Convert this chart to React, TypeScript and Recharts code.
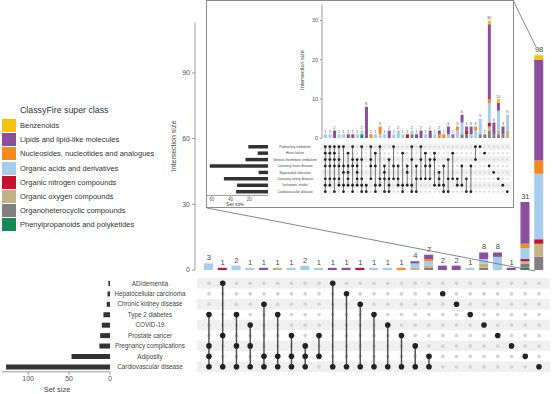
import React from 'react';
import { ComposedChart, BarChart, ScatterChart, Bar, Line, Scatter, XAxis, YAxis, ReferenceArea } from 'recharts';

const FONT = '"Liberation Sans", Arial, Helvetica, sans-serif';

// ClassyFire super classes (legend order = top of stack first)
const classNames = [
  'Benzenoids',
  'Lipids and lipid-like molecules',
  'Nucleosides, nucleotides and analogues',
  'Organic acids and derivatives',
  'Organic nitrogen compounds',
  'Organic oxygen compounds',
  'Organoheterocyclic compounds',
  'Phenylpropanoids and polyketides',
];
const classKeys = ['benz', 'lipid', 'nuc', 'acid', 'nitro', 'oxy', 'hetero', 'phenyl'];
const classColors = ['#F2C40F', '#8C4F9C', '#F58A1F', '#A7CDEE', '#C4122F', '#C3B283', '#808080', '#168A55'];

// ---------- main UpSet ----------
const mainSetNames = [
  'AD/dementia', 'Hepatocellular carcinoma', 'Chronic kidney disease', 'Type 2 diabetes', 'COVID-19',
  'Prostate cancer', 'Pregnancy complications', 'Adiposity', 'Cardiovascular disease',
];
const mainSetSizes = [2, 3, 4, 8, 10, 12, 13, 47, 127];
const mainTotals = [3, 1, 2, 1, 1, 1, 1, 2, 1, 1, 1, 1, 1, 1, 1, 4, 7, 2, 2, 1, 8, 8, 1, 31, 98];
const mainMembers = [
  '000100111', '100001001', '000100101', '000010101', '001000011', '000100011', '000001011', '000000111',
  '000001010', '100000001', '010000001', '001000001', '000100001', '000010001', '000001001', '000000101',
  '000000011', '010000000', '001000000', '000100000', '000010000', '000001000', '000000100', '000000010',
  '000000001',
];
const mainBenz =   [0,0,0,0,0,0,0,0,0,0,0,0,0,0,0,0,0,0,0,0,0,0,0,0,2];
const mainLipid =  [0,0,0,0,1,0,0,0,0,1,1,0,0,0,0,1,2,2,2,0,3,2,1,19,46];
const mainNuc =    [0,0,0,0,0,0,0,0,0,0,0,0,0,0,1,0,1,0,0,0,0,0,0,2,6];
const mainAcid =   [3,0,2,1,0,0,1,2,1,0,0,0,1,1,0,2,2,0,0,1,2,6,0,5,30];
const mainNitro =  [0,1,0,0,0,0,0,0,0,0,0,1,0,0,0,0,0,0,0,0,0,0,0,1,2];
const mainOxy =    [0,0,0,0,0,1,0,0,0,0,0,0,0,0,0,1,1,0,0,0,2,0,0,1,6];
const mainHetero = [0,0,0,0,0,0,0,0,0,0,0,0,0,0,0,0,1,0,0,0,1,0,0,2,6];
const mainPhenyl = [0,0,0,0,0,0,0,0,0,0,0,0,0,0,0,0,0,0,0,0,0,0,0,1,0];

// ---------- inset UpSet (cardiovascular subtypes) ----------
const insetSetNames = [
  'Pulmonary embolism', 'Heart failure', 'Venous thrombotic embolism', 'Coronary heart disease',
  'Myocardial infarction', 'Coronary artery disease', 'Ischaemic stroke', 'Cardiovascular disease',
];
const insetSetSizes = [21, 11, 24, 62, 10, 47, 33, 34];
const insetTotals = [1,1,2,1,1,1,1,1,2,8,1,1,3,1,2,1,2,1,1,2,1,2,1,2,1,2,1,3,1,3,6,3,3,3,5,1,30,4,10,3,6];
const insetMembers = [
  '11110111', '11110110', '11110101', '10110110', '10011011', '01011110', '10110011', '00111110',
  '10100111', '00000011', '10110100', '01010011', '10000110', '00011101', '00100111', '10010100',
  '00010110', '01000011', '00011010', '10100011', '00010101', '10100100', '01010100', '00110100',
  '01100010', '00001110', '00010011', '00100101', '01000100', '00000110', '00010010', '00000101',
  '00010001', '10100000', '10000000', '01000000', '00010000', '00001000', '00000100', '00000010',
  '00000001',
];
const insetBenz =   [0,0,0,0,0,0,0,0,0,0, 0,0,0,0,0,0,0,0,0,0, 0,0,0,0,0,0,0,0,0,0, 0,0,0,0,0,0,1,0,1,0, 0];
const insetLipid =  [0,0,2,0,0,1,1,0,0,8, 0,0,0,0,2,0,0,0,0,0, 1,2,0,2,0,1,0,2,0,0, 2,1,2,0,0,0,19,3,2,2, 0];
const insetNuc =    [0,0,0,0,0,0,0,0,0,0, 1,0,2,0,0,0,0,0,0,0, 0,0,0,0,0,1,1,0,0,1, 0,0,0,1,0,0,1,0,0,0, 0];
const insetAcid =   [1,1,0,1,1,0,0,1,1,0, 0,1,1,1,0,1,2,1,0,1, 0,0,1,0,1,0,0,1,0,2, 3,0,1,2,4,0,5,0,5,0, 4];
const insetNitro =  [0,0,0,0,0,0,0,0,0,0, 0,0,0,0,0,0,0,0,1,0, 0,0,0,0,0,0,0,0,0,0, 0,1,0,0,0,0,1,0,0,0, 0];
const insetOxy =    [0,0,0,0,0,0,0,0,0,0, 0,0,0,0,0,0,0,0,0,0, 0,0,0,0,0,0,0,0,0,0, 0,0,0,0,0,0,1,0,1,0, 2];
const insetHetero = [0,0,0,0,0,0,0,0,0,0, 0,0,0,0,0,0,0,0,0,1, 0,0,0,0,0,0,0,0,1,0, 1,1,0,0,1,1,2,1,1,1, 0];
const insetPhenyl = [0,0,0,0,0,0,0,0,1,0, 0,0,0,0,0,0,0,0,0,0, 0,0,0,0,0,0,0,0,0,0, 0,0,0,0,0,0,0,0,0,0, 0];

const mainSeries = [mainBenz, mainLipid, mainNuc, mainAcid, mainNitro, mainOxy, mainHetero, mainPhenyl];
const insetSeries = [insetBenz, insetLipid, insetNuc, insetAcid, insetNitro, insetOxy, insetHetero, insetPhenyl];
const stackOrder = [7, 6, 5, 4, 3, 2, 1, 0]; // bottom -> top

function buildBars(totals: number[], series: number[][]) {
  return totals.map((t, i) => {
    const row: any = { col: String(i + 1), total: t };
    classKeys.forEach((k, j) => { row[k] = series[j][i]; });
    return row;
  });
}

function buildMatrix(members: string[]) {
  const bg: any[] = [];
  const cols: any[][] = [];
  members.forEach((m, c) => {
    const pts: any[] = [];
    for (let r = 0; r < m.length; r++) {
      if (m[r] === '1') pts.push({ x: c, y: r });
      else bg.push({ x: c, y: r });
    }
    cols.push(pts);
  });
  return { bg, cols };
}

const dotShape = (r: number, fill: string) => (p: any) => <circle cx={p.cx} cy={p.cy} r={r} fill={fill} />;

export default function App() {
  const mainData = buildBars(mainTotals, mainSeries);
  const insetData = buildBars(insetTotals, insetSeries);
  const mainM = buildMatrix(mainMembers);
  const insetM = buildMatrix(insetMembers);
  const mainSetData = mainSetNames.map((n, i) => ({ name: n, size: mainSetSizes[i] }));
  const insetSetData = insetSetNames.map((n, i) => ({ name: n, size: insetSetSizes[i] }));
  const mainRows = mainSetNames.map((_, i) => i);
  const insetRows = insetSetNames.map((_, i) => i);

  return (
    <div style={{ position: 'absolute', left: 0, top: 0, width: 553, height: 394, background: '#fff', overflow: 'hidden', fontFamily: FONT }}>
      {/* main intersection bars */}
      <div style={{ position: 'absolute', left: 160, top: 0 }}>
        <ComposedChart width={393} height={280} data={mainData} margin={{ top: 22.5, right: 7, bottom: 10, left: 0 }}>
          <XAxis dataKey="col" hide padding={{ left: 7, right: 0 }} />
          <YAxis width={35} domain={[0, 113]} ticks={[0, 30, 60, 90]} allowDataOverflow tickSize={3} tickMargin={2}
            stroke="#9a9a9a" tick={{ fontSize: 7, fill: '#555', fontFamily: FONT }} />
          {stackOrder.map((j) => (
            <Bar key={classKeys[j]} dataKey={classKeys[j]} stackId="s" fill={classColors[j]} barSize={9} isAnimationActive={false} />
          ))}
          <Line dataKey="total" stroke="none" dot={false} activeDot={false} isAnimationActive={false}
            label={{ position: 'top', offset: 3, fontSize: 7.5, fill: '#444', fontFamily: FONT }} />
        </ComposedChart>
      </div>

      {/* main matrix stripes */}
      <div style={{ position: 'absolute', left: 0, top: 270 }}>
        <ScatterChart width={553} height={110} margin={{ top: 8.1, right: 3, bottom: 8, left: 197 }}>
          <XAxis type="number" dataKey="x" domain={[-0.87, 24.8]} hide allowDataOverflow />
          <YAxis type="number" dataKey="y" domain={[-0.5, 8.5]} reversed hide allowDataOverflow />
          {mainRows.filter((r) => r % 2 === 0).map((r) => (
            <ReferenceArea key={r} y1={r - 0.5} y2={r + 0.5} fill="#f0f0f0" fillOpacity={1} stroke="none" />
          ))}
        </ScatterChart>
      </div>

      {/* main matrix dots */}
      <div style={{ position: 'absolute', left: 0, top: 270 }}>
        <ScatterChart width={553} height={110} margin={{ top: 8.1, right: 3, bottom: 8, left: 0 }}>
          <XAxis type="number" dataKey="x" domain={[-0.87, 24.8]} hide allowDataOverflow />
          <YAxis type="number" dataKey="y" domain={[-0.5, 8.5]} reversed width={197} ticks={mainRows} interval={0}
            axisLine={false} tickLine={false} allowDataOverflow
            tick={(p: any) => (
              <text x={150} y={p.y} dy={2.3} textAnchor="middle" fontSize={6.3} fill="#444" fontFamily={FONT}>
                {mainSetNames[p.payload.value]}
              </text>
            )} />
          <Scatter data={mainM.bg} shape={dotShape(1.9, '#d4d4d4')} isAnimationActive={false} />
          {mainM.cols.map((pts, c) => (
            <Scatter key={c} data={pts} line={pts.length > 1 ? { stroke: '#4a4a4a', strokeWidth: 1.4 } : false}
              shape={dotShape(2.8, '#222')} isAnimationActive={false} />
          ))}
        </ScatterChart>
      </div>

      {/* main set sizes */}
      <div style={{ position: 'absolute', left: 0, top: 278.1 }}>
        <BarChart layout="vertical" width={112} height={113.8} data={mainSetData} margin={{ top: 0, right: 2, bottom: 0, left: 2 }}>
          <YAxis type="category" dataKey="name" hide />
          <XAxis type="number" dataKey="size" reversed domain={[0, 132]} ticks={[0, 50, 100]} height={20} tickSize={3} tickMargin={1}
            stroke="#9a9a9a" tick={{ fontSize: 7, fill: '#555', fontFamily: FONT }} />
          <Bar dataKey="size" fill="#333" barSize={5} isAnimationActive={false} />
        </BarChart>
      </div>

      {/* legend */}
      <div style={{ position: 'absolute', left: 20, top: 105, fontSize: 8.8, color: '#333', whiteSpace: 'nowrap' }}>ClassyFire super class</div>
      {classNames.map((n, i) => (
        <div key={n} style={{ position: 'absolute', left: 2, top: 119 + i * 14.2, height: 13, display: 'flex', alignItems: 'center' }}>
          <div style={{ width: 14, height: 13, background: classColors[i] }} />
          <div style={{ marginLeft: 4, fontSize: 7.5, color: '#333', whiteSpace: 'nowrap' }}>{n}</div>
        </div>
      ))}

      {/* inset box */}
      <div style={{ position: 'absolute', left: 206, top: 0, width: 308, height: 208, boxSizing: 'border-box', border: '1px solid #8c8c8c', background: '#fff' }} />

      {/* inset bars */}
      <div style={{ position: 'absolute', left: 290, top: 0 }}>
        <ComposedChart width={263} height={145} data={insetData} margin={{ top: 4.7, right: 43.4, bottom: 6.7, left: 0 }}>
          <XAxis dataKey="col" hide padding={{ left: 1, right: 0 }} />
          <YAxis width={32} domain={[0, 34]} ticks={[0, 10, 20, 30]} allowDataOverflow tickSize={2} tickMargin={2}
            stroke="#9a9a9a" tick={{ fontSize: 5.5, fill: '#555', fontFamily: FONT }} />
          {stackOrder.map((j) => (
            <Bar key={classKeys[j]} dataKey={classKeys[j]} stackId="s" fill={classColors[j]} barSize={3} isAnimationActive={false} />
          ))}
          <Line dataKey="total" stroke="none" dot={false} activeDot={false} isAnimationActive={false}
            label={{ position: 'top', offset: 1.5, fontSize: 4, fill: '#555', fontFamily: FONT }} />
        </ComposedChart>
      </div>

      {/* inset matrix stripes */}
      <div style={{ position: 'absolute', left: 0, top: 140 }}>
        <ScatterChart width={553} height={58} margin={{ top: 3.5, right: 42, bottom: 3.1, left: 321 }}>
          <XAxis type="number" dataKey="x" domain={[-0.945, 40.81]} hide allowDataOverflow />
          <YAxis type="number" dataKey="y" domain={[-0.5, 7.5]} reversed hide allowDataOverflow />
          {insetRows.filter((r) => r % 2 === 0).map((r) => (
            <ReferenceArea key={r} y1={r - 0.5} y2={r + 0.5} fill="#f0f0f0" fillOpacity={1} stroke="none" />
          ))}
        </ScatterChart>
      </div>

      {/* inset matrix dots */}
      <div style={{ position: 'absolute', left: 0, top: 140 }}>
        <ScatterChart width={553} height={58} margin={{ top: 3.5, right: 42, bottom: 3.1, left: 0 }}>
          <XAxis type="number" dataKey="x" domain={[-0.945, 40.81]} hide allowDataOverflow />
          <YAxis type="number" dataKey="y" domain={[-0.5, 7.5]} reversed width={321} ticks={insetRows} interval={0}
            axisLine={false} tickLine={false} allowDataOverflow
            tick={(p: any) => (
              <text x={295} y={p.y} dy={1.2} textAnchor="middle" fontSize={3.4} fill="#444" fontFamily={FONT}>
                {insetSetNames[p.payload.value]}
              </text>
            )} />
          <Scatter data={insetM.bg} shape={dotShape(1.0, '#d4d4d4')} isAnimationActive={false} />
          {insetM.cols.map((pts, c) => (
            <Scatter key={c} data={pts} line={pts.length > 1 ? { stroke: '#555', strokeWidth: 0.8 } : false}
              shape={dotShape(1.4, '#222')} isAnimationActive={false} />
          ))}
        </ScatterChart>
      </div>

      {/* inset set sizes */}
      <div style={{ position: 'absolute', left: 205, top: 143.5 }}>
        <BarChart layout="vertical" width={63} height={61.4} data={insetSetData} margin={{ top: 0, right: 0, bottom: 0, left: 2 }}>
          <YAxis type="category" dataKey="name" hide />
          <XAxis type="number" dataKey="size" reversed domain={[0, 65]} ticks={[0, 20, 40, 60]} height={10} tickSize={1.5} tickMargin={0.5}
            stroke="#9a9a9a" tick={{ fontSize: 4.5, fill: '#555', fontFamily: FONT }} />
          <Bar dataKey="size" fill="#333" barSize={3.5} isAnimationActive={false} />
        </BarChart>
      </div>

      {/* annotations */}
      <svg width={553} height={394} style={{ position: 'absolute', left: 0, top: 0, pointerEvents: 'none' }} fontFamily={FONT}>
        <line x1={207} y1={208} x2={535} y2={271} stroke="#777" strokeWidth={0.9} />
        <line x1={513} y1={0} x2={536} y2={47} stroke="#777" strokeWidth={0.9} />
        <text transform="translate(176,146) rotate(-90)" textAnchor="middle" fontSize={7} fill="#444">Intersection size</text>
        <text x={57} y={392} textAnchor="middle" fontSize={7.5} fill="#444">Set size</text>
        <text transform="translate(304,70) rotate(-90)" textAnchor="middle" fontSize={5.5} fill="#444">Intersection size</text>
        <text x={235} y={206} textAnchor="middle" fontSize={5} fill="#444">Set size</text>
      </svg>
    </div>
  );
}
